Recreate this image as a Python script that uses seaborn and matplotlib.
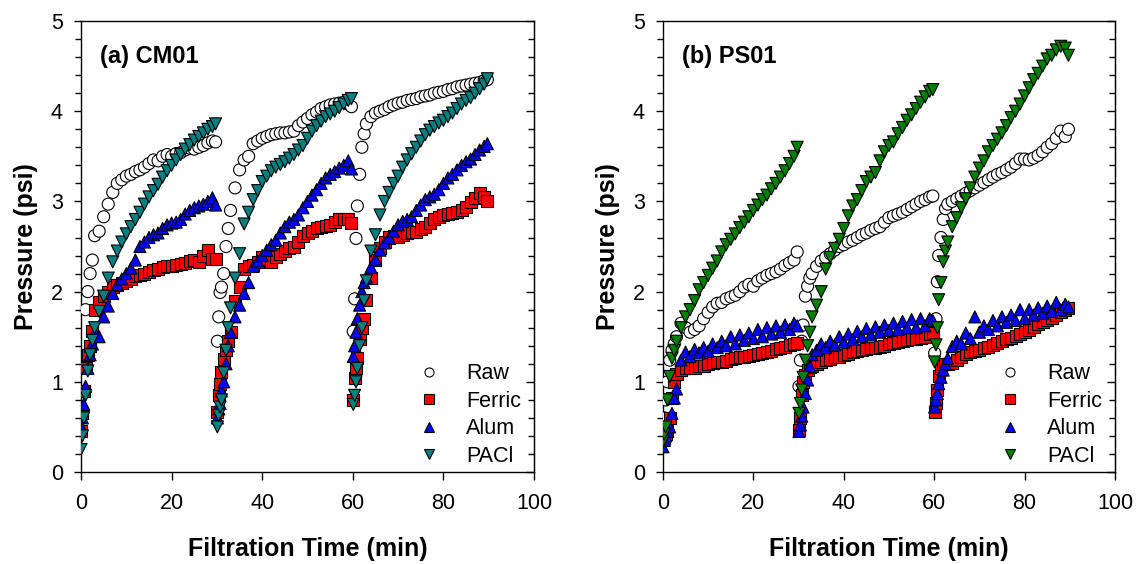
import numpy as np
import pandas as pd
import matplotlib
matplotlib.use("Agg")
import matplotlib.pyplot as plt
from matplotlib.lines import Line2D
from matplotlib.ticker import MultipleLocator
import seaborn as sns

# filtration time (min), three 30-min cycles
TIME = [0, 0.3, 0.6, 1, 1.5, 2, 2.5, 3, 4, 5, 6, 7, 8, 9, 10, 11, 12, 13, 14, 15, 16, 17,
        18, 19, 20, 21, 22, 23, 24, 25, 26, 27, 28, 29, 29.7,
        30.1, 30.4, 30.7, 31, 31.5, 32, 32.5, 33, 34, 35, 36, 37, 38, 39, 40, 41, 42, 43,
        44, 45, 46, 47, 48, 49, 50, 51, 52, 53, 54, 55, 56, 57, 58, 59, 59.7,
        60.1, 60.4, 60.7, 61, 61.5, 62, 62.5, 63, 64, 65, 66, 67, 68, 69, 70, 71, 72, 73,
        74, 75, 76, 77, 78, 79, 80, 81, 82, 83, 84, 85, 86, 87, 88, 89, 89.7]

# (a) CM01 pressure (psi)
CM01_RAW = [
    None, None, None, 1.80, 2.00, 2.20, 2.35, 2.62,
    2.67, 2.83, 2.97, 3.10, 3.20, 3.24, 3.28, 3.30, 3.33, 3.35, 3.38, 3.42, 3.46, 3.45, 3.50,
    3.52, 3.50, 3.53, 3.54, 3.57, 3.59, 3.58, 3.60, 3.62, 3.65, 3.67, 3.66,
    1.45, 1.72, 1.99, 2.05, 2.20, 2.50, 2.70, 2.90,
    3.15, 3.35, 3.46, 3.50, 3.64, 3.67, 3.70, 3.72, 3.74, 3.75, 3.76, 3.76, 3.77, 3.78, 3.84,
    3.88, 3.92, 3.96, 3.99, 4.03, 4.05, 4.07, 4.08, 4.09, 4.10, 4.08, 4.05,
    1.56, 1.92, 2.59, 2.95, 3.30, 3.60, 3.75, 3.86,
    3.94, 3.98, 4.00, 4.02, 4.05, 4.07, 4.09, 4.10, 4.12, 4.13, 4.14, 4.16, 4.17, 4.18, 4.20,
    4.21, 4.22, 4.24, 4.25, 4.27, 4.28, 4.29, 4.30, 4.31, 4.32, 4.34, 4.35]
CM01_FERRIC = [
    0.45, 0.65, 0.90, 1.15, 1.30, 1.40, 1.56, 1.80,
    1.88, 1.95, 2.00, 2.05, 2.07, 2.10, 2.12, 2.14, 2.17, 2.18, 2.20, 2.22, 2.24, 2.25, 2.27,
    2.28, 2.28, 2.30, 2.31, 2.32, 2.34, 2.35, 2.33, 2.40, 2.46, 2.36, 2.36,
    0.67, 0.85, 0.98, 1.11, 1.25, 1.35, 1.45, 1.55,
    1.90, 2.05, 2.25, 2.28, 2.29, 2.33, 2.38, 2.36, 2.33, 2.38, 2.42, 2.45, 2.48, 2.50, 2.55,
    2.62, 2.65, 2.67, 2.70, 2.72, 2.73, 2.74, 2.77, 2.80, 2.81, 2.80, 2.76,
    0.80, 1.04, 1.15, 1.26, 1.48, 1.60, 1.70, 1.91,
    2.15, 2.35, 2.48, 2.55, 2.60, 2.62, 2.61, 2.63, 2.65, 2.66, 2.66, 2.69, 2.72, 2.76, 2.81,
    2.83, 2.85, 2.86, 2.87, 2.88, 2.90, 2.94, 2.99, 3.04, 3.09, 3.05, 3.00]
CM01_ALUM = [
    0.50, 0.60, 0.75, 0.95, 1.15, 1.30, 1.42, 1.55,
    1.50, 1.72, 1.84, 1.98, 2.08, 2.14, 2.20, 2.26, 2.35, 2.50, 2.55, 2.60, 2.63, 2.65, 2.70,
    2.74, 2.76, 2.77, 2.80, 2.86, 2.90, 2.93, 2.95, 2.97, 3.00, 3.04, 2.96,
    0.60, 0.70, 0.76, 0.90, 1.00, 1.20, 1.40, 1.55,
    1.72, 1.85, 1.98, 2.10, 2.28, 2.34, 2.40, 2.46, 2.52, 2.57, 2.65, 2.72, 2.77, 2.80, 2.85,
    2.93, 3.00, 3.07, 3.13, 3.20, 3.26, 3.30, 3.33, 3.37, 3.40, 3.45, 3.36,
    1.28, 1.40, 1.55, 1.70, 1.85, 2.00, 2.10, 2.16,
    2.27, 2.36, 2.46, 2.54, 2.60, 2.67, 2.74, 2.78, 2.80, 2.83, 2.90, 2.96, 3.02, 3.05, 3.08,
    3.13, 3.20, 3.26, 3.30, 3.35, 3.40, 3.44, 3.47, 3.52, 3.57, 3.61, 3.64]
CM01_PACL = [
    0.25, 0.40, 0.60, 0.85, 1.12, 1.30, 1.46, 1.60,
    1.78, 1.95, 2.15, 2.33, 2.45, 2.55, 2.64, 2.72, 2.80, 2.88, 2.97, 3.05, 3.12, 3.19, 3.27,
    3.34, 3.40, 3.46, 3.52, 3.58, 3.63, 3.68, 3.72, 3.76, 3.80, 3.83, 3.86,
    0.50, 0.63, 0.72, 0.80, 1.10, 1.35, 1.60, 1.82,
    2.15, 2.42, 2.75, 2.88, 3.02, 3.12, 3.22, 3.28, 3.34, 3.38, 3.41, 3.44, 3.48, 3.52, 3.57,
    3.62, 3.70, 3.78, 3.84, 3.89, 3.94, 3.97, 4.00, 4.04, 4.08, 4.12, 4.14,
    0.75, 0.85, 1.00, 1.15, 1.40, 1.60, 1.90, 2.12,
    2.45, 2.63, 2.85, 3.00, 3.10, 3.20, 3.28, 3.38, 3.46, 3.53, 3.60, 3.67, 3.74, 3.79, 3.83,
    3.87, 3.90, 3.94, 3.98, 4.03, 4.08, 4.12, 4.15, 4.20, 4.25, 4.30, 4.36]

# (b) PS01 pressure (psi)
PS01_RAW = [
    0.47, 0.60, 0.80, 1.00, 1.24, 1.35, 1.42, 1.50,
    1.65, 1.60, 1.55, 1.58, 1.62, 1.70, 1.77, 1.83, 1.87, 1.88, 1.92, 1.94, 1.96, 2.00, 2.05,
    2.08, 2.06, 2.12, 2.15, 2.18, 2.20, 2.22, 2.25, 2.29, 2.32, 2.35, 2.44,
    0.95, 1.24, 1.45, 1.63, 1.95, 2.06, 2.15, 2.20,
    2.28, 2.34, 2.38, 2.42, 2.46, 2.50, 2.52, 2.55, 2.57, 2.60, 2.63, 2.65, 2.68, 2.70, 2.72,
    2.77, 2.82, 2.84, 2.86, 2.88, 2.91, 2.94, 2.97, 3.00, 3.02, 3.05, 3.06,
    1.32, 1.70, 2.11, 2.40, 2.60, 2.80, 2.92, 2.97,
    3.00, 3.03, 3.06, 3.09, 3.12, 3.15, 3.18, 3.21, 3.24, 3.27, 3.30, 3.32, 3.35, 3.38, 3.42,
    3.47, 3.47, 3.46, 3.48, 3.51, 3.55, 3.60, 3.64, 3.70, 3.78, 3.72, 3.80]
PS01_FERRIC = [
    0.35, 0.38, 0.42, 0.45, 0.60, 0.82, 1.00, 1.09,
    1.13, 1.15, 1.15, 1.15, 1.17, 1.18, 1.20, 1.21, 1.22, 1.22, 1.23, 1.25, 1.26, 1.27, 1.28,
    1.29, 1.30, 1.31, 1.32, 1.33, 1.34, 1.36, 1.38, 1.39, 1.41, 1.42, 1.43,
    0.47, 0.60, 0.85, 1.00, 1.08, 1.13, 1.16, 1.18,
    1.20, 1.22, 1.24, 1.25, 1.27, 1.28, 1.30, 1.31, 1.33, 1.34, 1.35, 1.36, 1.37, 1.38, 1.39,
    1.40, 1.42, 1.43, 1.44, 1.45, 1.46, 1.47, 1.48, 1.49, 1.50, 1.53, 1.54,
    0.67, 0.76, 0.91, 1.06, 1.15, 1.20, 1.20, 1.20,
    1.21, 1.24, 1.27, 1.31, 1.33, 1.34, 1.35, 1.37, 1.39, 1.41, 1.43, 1.45, 1.47, 1.49, 1.51,
    1.53, 1.55, 1.58, 1.61, 1.64, 1.66, 1.68, 1.71, 1.74, 1.77, 1.80, 1.82]
PS01_ALUM = [
    0.28, 0.35, 0.40, 0.45, 0.50, 0.65, 0.82, 0.92,
    1.24, 1.33, 1.28, 1.36, 1.32, 1.38, 1.34, 1.42, 1.38, 1.45, 1.40, 1.50, 1.42, 1.52, 1.46,
    1.54, 1.48, 1.58, 1.50, 1.60, 1.53, 1.62, 1.55, 1.63, 1.58, 1.65, 1.62,
    0.45, 0.52, 0.62, 0.72, 0.87, 1.02, 1.17, 1.30,
    1.35, 1.42, 1.38, 1.45, 1.41, 1.50, 1.44, 1.53, 1.47, 1.56, 1.50, 1.59, 1.52, 1.61, 1.55,
    1.63, 1.57, 1.65, 1.58, 1.67, 1.60, 1.69, 1.60, 1.70, 1.62, 1.70, 1.68,
    0.72, 0.80, 0.87, 0.98, 1.05, 1.13, 1.20, 1.26,
    1.39, 1.45, 1.42, 1.54, 1.48, 1.72, 1.55, 1.62, 1.58, 1.68, 1.62, 1.72, 1.66, 1.74, 1.68,
    1.80, 1.70, 1.80, 1.74, 1.82, 1.76, 1.84, 1.78, 1.88, 1.80, 1.86, 1.83]
PS01_PACL = [
    0.34, 0.42, 0.50, 0.80, 1.06, 1.26, 1.35, 1.45,
    1.60, 1.72, 1.80, 1.90, 2.02, 2.10, 2.18, 2.26, 2.34, 2.44, 2.52, 2.58, 2.64, 2.71, 2.77,
    2.83, 2.90, 2.96, 3.02, 3.07, 3.14, 3.20, 3.27, 3.34, 3.42, 3.50, 3.60,
    0.65, 0.76, 0.91, 1.05, 1.24, 1.40, 1.55, 1.72,
    1.85, 2.00, 2.25, 2.38, 2.48, 2.58, 2.70, 2.84, 2.95, 3.02, 3.12, 3.22, 3.27, 3.32, 3.45,
    3.55, 3.62, 3.66, 3.75, 3.82, 3.90, 3.96, 4.03, 4.10, 4.16, 4.22, 4.24,
    1.22, 1.41, 1.60, 1.91, 2.10, 2.33, 2.45, 2.55,
    2.72, 2.82, 2.93, 3.03, 3.15, 3.27, 3.37, 3.45, 3.55, 3.62, 3.69, 3.76, 3.84, 3.93, 4.00,
    4.08, 4.17, 4.26, 4.35, 4.42, 4.50, 4.58, 4.62, 4.68, 4.72, 4.70, 4.62]

SERIES = ["Raw", "Ferric", "Alum", "PACl"]
MARKERS = {"Raw": "o", "Ferric": "s", "Alum": "^", "PACl": "v"}
X_TICKS = [0, 20, 40, 60, 80, 100]
Y_TICKS = [0, 1, 2, 3, 4, 5]

sns.set_style("ticks")
plt.rcParams['font.family'] = ['Liberation Sans', 'DejaVu Sans']
plt.rcParams['text.color'] = 'black'
plt.rcParams['axes.labelcolor'] = 'black'
plt.rcParams['xtick.color'] = 'black'
plt.rcParams['ytick.color'] = 'black'

fig = plt.figure(figsize=(11.43, 5.64), dpi=100)
ax1 = fig.add_axes([0.0709, 0.1631, 0.3963, 0.7996])
ax2 = fig.add_axes([0.5800, 0.1631, 0.3955, 0.7996])


def draw_panel(ax, values, pacl_color, title):
    palette = {"Raw": "white", "Ferric": "#ff0000", "Alum": "#0000ff", "PACl": pacl_color}
    df = pd.DataFrame({"time": TIME})
    for name, vals in zip(SERIES, values):
        df[name] = np.array(vals, dtype=float)
    long = df.melt(id_vars="time", var_name="series", value_name="pressure").dropna()
    sns.scatterplot(data=long, x="time", y="pressure", hue="series", style="series",
                    palette=palette, markers=MARKERS, s=75, edgecolor="black",
                    linewidth=0.8, ax=ax, legend=False, zorder=3)

    ax.set_xlim(0, 100)
    ax.set_ylim(0, 5)
    ax.set_xticks(X_TICKS)
    ax.set_yticks(Y_TICKS)
    ax.yaxis.set_minor_locator(MultipleLocator(0.2))
    ax.tick_params(axis="both", which="both", direction="out", top=False, right=False,
                   labelsize=15.5, color="black", labelcolor="black", width=1)
    ax.tick_params(axis="x", which="major", length=6, pad=9)
    ax.tick_params(axis="y", which="major", length=5, pad=8)
    ax.tick_params(axis="y", which="minor", length=4)
    for sp in ax.spines.values():
        sp.set_linewidth(1)
        sp.set_color("black")

    sec = ax.secondary_yaxis("right")
    sec.set_yticks(Y_TICKS)
    sec.yaxis.set_minor_locator(MultipleLocator(0.2))
    sec.tick_params(axis="y", which="both", direction="in", labelright=False, width=1)
    sec.tick_params(axis="y", which="major", length=6)
    sec.tick_params(axis="y", which="minor", length=4)

    ax.set_xlabel("Filtration Time (min)", fontsize=18, fontweight="bold", labelpad=17)
    ax.set_ylabel("Pressure (psi)", fontsize=18, fontweight="bold", labelpad=9)
    ax.text(0.042, 0.907, title, transform=ax.transAxes, fontsize=17,
            fontweight="bold", va="baseline", ha="left")

    handles = [Line2D([], [], linestyle="none", marker=MARKERS[n], markersize=6.5,
                      markerfacecolor=palette[n], markeredgecolor="black",
                      markeredgewidth=0.8) for n in SERIES]
    ax.legend(handles, SERIES, loc="lower right", bbox_to_anchor=(0.976, 0.007),
              frameon=False, fontsize=15.5, handletextpad=0.7, labelspacing=0.3,
              borderpad=0.1, borderaxespad=0)


draw_panel(ax1, [CM01_RAW, CM01_FERRIC, CM01_ALUM, CM01_PACL], "#008080", "(a) CM01")
draw_panel(ax2, [PS01_RAW, PS01_FERRIC, PS01_ALUM, PS01_PACL], "#008000", "(b) PS01")

fig.savefig("out.png", dpi=100)
